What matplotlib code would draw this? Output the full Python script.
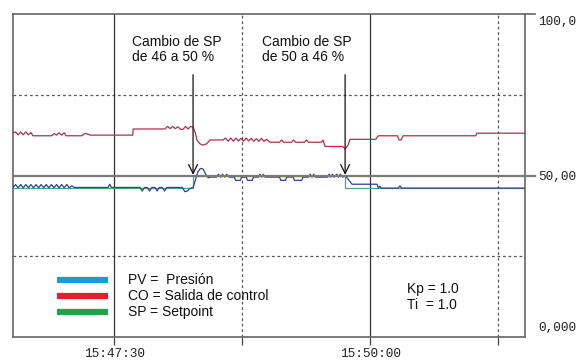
import matplotlib
matplotlib.use("Agg")
import matplotlib.pyplot as plt

# ---- data (time in seconds relative to 15:47:30, values in %) ----
co_t = [-59.2, -57.7, -56.2, -54.7, -53.2, -51.7, -50.2, -48.7, -47.5, -36.5,
        -35.2, -33.7, -32.2, -30.7, -29.2, -28.1, -18.8, -17.3, -15.8, -14.1,
        11.0, 11.2, 29.9, 31.4, 32.9, 34.4, 35.9, 37.4, 38.9, 40.4, 41.9, 43.4,
        44.9, 46.3, 47.5, 48.6, 50.4, 52.2, 54.2, 56.3, 63.9, 65.4, 66.9, 68.4,
        69.9, 71.4, 72.9, 74.4, 75.9, 77.4, 78.9, 80.4, 81.9, 83.4, 84.9, 86.4,
        87.9, 89.4, 91.4, 97.0, 98.2, 99.4, 104.0, 105.2, 106.4, 111.6, 112.8,
        114.0, 121.5, 122.5, 123.6, 124.0, 134.0, 135.4, 137.0, 138.3, 153.4,
        154.1, 154.9, 166.0, 167.0, 168.2, 169.4, 212.0, 212.6, 240.8]
co_v = [63.1, 63.5, 62.6, 63.5, 62.6, 63.5, 62.6, 63.3, 62.3, 62.3,
        63.0, 62.5, 63.2, 62.5, 63.2, 62.3, 62.3, 63.0, 62.9, 62.5,
        62.5, 64.4, 64.4, 65.2, 64.5, 65.2, 64.5, 65.1, 64.3, 64.3, 65.2,
        64.4, 65.2, 64.9, 63.4, 61.0, 59.8, 59.4, 59.8, 61.0, 61.0, 61.6,
        60.6, 61.6, 60.6, 61.6, 60.7, 61.5, 60.6, 61.6, 60.7, 61.5, 60.6,
        61.4, 60.6, 61.5, 60.6, 61.2, 60.3, 60.3, 61.0, 60.3, 60.3, 61.0,
        60.3, 60.3, 61.0, 60.3, 60.3, 61.0, 59.0, 59.0, 59.0, 58.2, 59.3,
        61.2, 61.2, 61.8, 62.3, 62.3, 61.0, 61.0, 62.3, 62.3, 63.1, 63.1]

pv_t = [-59.2, -57.7, -56.2, -54.7, -53.2, -51.7, -50.2, -48.7, -47.2, -45.7,
        -44.2, -42.7, -41.2, -39.7, -38.2, -36.7, -35.2, -33.7, -32.2, -30.7,
        -29.2, -27.7, -26.2, -24.7, -23.2, -14.0, -3.5, -2.5, -1.5, 15.2, 16.5,
        17.8, 19.5, 20.8, 22.1, 24.0, 25.3, 26.6, 28.3, 29.6, 30.9, 32.6, 40.0,
        41.5, 43.0, 44.5, 46.3, 47.6, 49.0, 50.6, 52.2, 53.6, 55.2, 56.3, 60.0,
        61.2, 62.4, 63.6, 64.8, 66.0, 67.5, 70.5, 71.2, 74.0, 74.7, 77.5, 78.2,
        81.0, 81.7, 84.5, 85.5, 86.5, 87.5, 88.5, 89.5, 97.0, 97.7, 100.5,
        101.2, 105.0, 105.7, 110.0, 110.7, 114.0, 115.0, 116.0, 117.0, 118.0,
        119.0, 125.0, 126.0, 127.0, 128.0, 129.0, 130.5, 131.5, 132.5, 134.0,
        135.4, 139.5, 154.1, 154.9, 155.7, 156.5, 157.3, 166.5, 167.5, 168.5,
        240.8]
pv_v = [46.3, 47.2, 46.2, 47.2, 46.2, 47.2, 46.2, 47.2, 46.2, 47.2,
        46.2, 47.2, 46.2, 47.2, 46.2, 47.2, 46.2, 47.2, 46.2, 47.2,
        46.2, 47.2, 46.2, 46.8, 46.3, 46.3, 46.3, 47.3, 46.3, 46.3, 45.2,
        46.3, 46.3, 45.2, 46.3, 46.3, 45.2, 46.3, 46.3, 45.2, 46.3, 46.3, 46.3,
        45.0, 45.2, 46.0, 46.3, 48.5, 51.0, 52.2, 52.0, 50.5, 49.3, 49.5, 49.5,
        50.4, 49.5, 50.4, 49.5, 50.4, 49.5, 49.5, 48.5, 48.5, 49.5, 49.5, 48.5,
        48.5, 49.5, 49.5, 50.4, 49.5, 50.4, 49.5, 49.5, 49.5, 48.5, 48.5,
        49.5, 49.5, 48.5, 48.5, 49.5, 49.5, 50.4, 49.5, 50.4, 49.5,
        49.5, 49.5, 50.4, 49.5, 50.4, 49.5, 50.4, 49.5, 50.4, 49.5,
        50.0, 47.3, 47.3, 46.1, 46.7, 46.1, 46.1, 46.1, 46.8, 46.1,
        46.1]

sp_t = [-59.2, 46.3, 135.4, 240.8]
sp_v = [46.0, 50.0, 46.0, 46.0]

x_major = [0, 150]
x_minor = [75, 225]
x_labels = ["15:47:30", "15:50:00"]
y_labels = ["100,0", "50,00", "0,000"]
legend_labels = ["PV =  Presi\u00f3n", "CO = Salida de control", "SP = Setpoint"]
legend_colors = ["#1b9ad6", "#e41f2d", "#23a14b"]
ann1 = "Cambio de SP\nde 46 a 50 %"
ann2 = "Cambio de SP\nde 50 a 46 %"
params = "Kp = 1.0\nTi  = 1.0"

W, H = 581, 362
fig = plt.figure(figsize=(W / 100, H / 100), dpi=100)
ax = fig.add_axes([13 / W, 25 / H, 512 / W, 323 / H])
ax.set_xlim(-59.2, 240.8)
ax.set_ylim(0, 100)

sans = ["Liberation Sans", "DejaVu Sans"]
mono = ["Liberation Mono", "DejaVu Sans Mono"]

# grid
for y in (25, 75):
    ax.axhline(y, color="#555555", lw=0.9, ls=(0, (2.2, 2.2)), zorder=1)
for x in x_minor:
    ax.axvline(x, color="#555555", lw=0.9, ls=(0, (2.2, 2.2)), zorder=1)
for x in x_major:
    ax.axvline(x, color="#333333", lw=0.9, zorder=1)

# series
ax.plot(co_t, co_v, color="#b0304c", lw=0.9, zorder=3)
ax.plot(sp_t, sp_v, color="#5a9e8c", lw=0.9, drawstyle="steps-post", zorder=3)
ax.plot(pv_t, pv_v, color="#34408e", lw=0.9, zorder=4)

# 50 % reference line extending past right edge
ax.plot([-59.2, 246.7], [50, 50], color="#7a7a7a", lw=1.6, clip_on=False, zorder=5)
ax.plot([240.8, 246.7], [100, 100], color="#666666", lw=1.2, clip_on=False, zorder=5)

# spines
for s in ax.spines.values():
    s.set_color("#666666")
    s.set_linewidth(1.2)

ax.set_xticks(x_major + x_minor)
ax.set_xticklabels(x_labels + ["", ""], fontfamily=mono, fontsize=9.2, color="#222222")
ax.tick_params(axis="x", length=6, width=0.9, color="#444444", pad=2)
ax.set_yticks([])

# right labels
for val, lab in zip([97.5, 49.5, 2.8], y_labels):
    ax.text(1.025, val / 100, lab, transform=ax.transAxes, ha="left", va="center",
            fontfamily=mono, fontsize=9.2, color="#222222", clip_on=False)

# annotations
for xt, xa, txt in [(10.5, 46.3, ann1), (86.7, 135.4, ann2)]:
    ax.text(xt, 89.0, txt, ha="left", va="center", fontfamily=sans, fontsize=10,
            linespacing=1.15, color="#111111", zorder=6)
    ax.annotate("", xy=(xa, 50.2), xytext=(xa, 81.2),
                arrowprops=dict(arrowstyle="->", color="#111111", lw=0.9,
                                mutation_scale=16, shrinkA=0, shrinkB=0), zorder=6)

# legend
for i, (lab, col) in enumerate(zip(legend_labels, legend_colors)):
    yy = 0.1765 - i * 0.0496
    ax.plot([0.0859, 0.1855], [yy, yy], transform=ax.transAxes, color=col,
            lw=4.5, solid_capstyle="butt", zorder=6)
    ax.text(0.2246, yy, lab, transform=ax.transAxes, ha="left", va="center",
            fontfamily=sans, fontsize=10, color="#111111", zorder=6)

ax.text(0.7695, 0.125, params, transform=ax.transAxes, ha="left", va="center",
        fontfamily=sans, fontsize=10, linespacing=1.2, color="#111111", zorder=6)

fig.savefig("out.png", dpi=100, facecolor="white")
